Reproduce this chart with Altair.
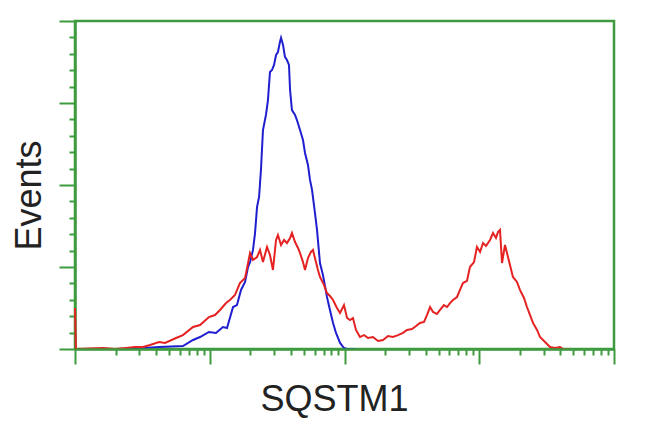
import altair as alt
import pandas as pd
import math

# log10 fluorescence intensity (x) and event counts (y)
blue_x = [0.186, 0.408, 0.623, 0.801, 0.876, 0.928, 0.994, 1.046, 1.098, 1.128,
          1.173, 1.202, 1.232, 1.262, 1.284, 1.299, 1.321, 1.336, 1.351, 1.366,
          1.380, 1.395, 1.417, 1.432, 1.447, 1.462, 1.477, 1.492, 1.506, 1.521,
          1.529, 1.544, 1.558, 1.573, 1.588, 1.596, 1.610, 1.633, 1.647, 1.670,
          1.692, 1.707, 1.729, 1.744, 1.759, 1.781, 1.796, 1.818, 1.840, 1.870,
          1.892, 1.915, 1.937, 1.967, 1.996, 2.019, 2.078]
blue_y = [0, 0, 1.2, 1.8, 5.5, 7.3, 10.4, 9.8, 13.4, 12.8,
          25.6, 26.8, 36.0, 40.9, 50.0, 53.0, 60.4, 70.7, 86.6, 92.7,
          109.2, 133.5, 142.7, 151.8, 168.9, 170.1, 173.2, 179.3, 181.1, 187.2,
          189.7, 185.4, 178.1, 176.2, 173.2, 157.9, 145.7, 142.7, 139.6, 133.5,
          127.4, 119.5, 112.2, 103.1, 97.0, 82.9, 72.6, 52.4, 45.1, 31.7,
          23.8, 15.9, 9.8, 3.7, 0.6, 0, 0]

red_x = [0, 0.007, 0.208, 0.297, 0.378, 0.445, 0.505, 0.557, 0.623, 0.668,
         0.750, 0.801, 0.876, 0.928, 0.994, 1.039, 1.076, 1.121, 1.150, 1.187,
         1.224, 1.262, 1.299, 1.321, 1.351, 1.373, 1.395, 1.425, 1.447, 1.469,
         1.492, 1.506, 1.529, 1.551, 1.573, 1.596, 1.610, 1.633, 1.655, 1.670,
         1.692, 1.707, 1.729, 1.751, 1.766, 1.788, 1.803, 1.818, 1.848, 1.870,
         1.892, 1.915, 1.944, 1.967, 1.996, 2.019, 2.041, 2.063, 2.085, 2.115,
         2.145, 2.174, 2.211, 2.249, 2.286, 2.323, 2.360, 2.397, 2.434, 2.464,
         2.501, 2.531, 2.560, 2.590, 2.612, 2.635, 2.657, 2.686, 2.709, 2.738,
         2.761, 2.783, 2.805, 2.835, 2.857, 2.879, 2.909, 2.931, 2.961, 2.983,
         3.006, 3.028, 3.050, 3.080, 3.102, 3.124, 3.139, 3.154, 3.169, 3.191,
         3.206, 3.228, 3.250, 3.280, 3.302, 3.332, 3.354, 3.377, 3.399, 3.429,
         3.451, 3.488, 3.525, 3.562, 3.599, 3.622, 3.673]
red_y = [25.0, 0, 0.6, 0, 0.6, 1.2, 1.2, 2.4, 4.3, 3.7,
         6.7, 8.5, 13.4, 14.6, 19.5, 20.7, 23.8, 28.0, 29.9, 32.9,
         40.2, 43.3, 58.5, 54.3, 56.1, 60.4, 53.0, 62.2, 57.3, 48.2,
         66.5, 69.5, 63.4, 66.5, 64.6, 67.7, 70.7, 65.2, 61.6, 58.5,
         53.0, 48.2, 55.5, 59.2, 60.4, 53.0, 48.2, 43.9, 39.0, 34.1,
         32.3, 29.9, 25.0, 22.0, 26.8, 18.9, 17.7, 18.9, 11.6, 7.3,
         8.5, 6.7, 7.3, 4.9, 5.5, 7.9, 7.3, 8.5, 9.8, 11.6,
         12.2, 14.0, 15.9, 16.5, 20.7, 25.6, 22.6, 21.3, 23.8, 26.8,
         25.6, 28.0, 29.9, 31.7, 36.0, 40.2, 41.5, 50.0, 53.0, 62.2,
         59.2, 64.6, 62.8, 66.5, 70.7, 67.7, 71.3, 72.6, 52.4, 63.4,
         58.5, 51.2, 43.9, 40.9, 36.0, 31.1, 25.6, 20.7, 15.9, 11.6,
         7.3, 4.3, 1.2, 0.6, 1.2, 0, 0]

series_names = ["Isotype control", "SQSTM1"]
series_colors = ["#1f1fcf", "#e52222"]

x_ticks = [d + math.log10(k) for d in range(4) for k in range(1, 10)] + [4]
y_ticks = list(range(0, 201, 10))

GREEN = "#3f9b3f"

df = pd.concat([
    pd.DataFrame({"x": blue_x, "y": blue_y, "series": series_names[0], "order": range(len(blue_x))}),
    pd.DataFrame({"x": red_x, "y": red_y, "series": series_names[1], "order": range(len(red_x))}),
])

chart = alt.Chart(df).mark_line(strokeWidth=2).encode(
    x=alt.X("x:Q", scale=alt.Scale(domain=[0, 4], nice=False, zero=False),
            axis=alt.Axis(values=x_ticks, labels=False, grid=False,
                          title="SQSTM1", titleFont="Liberation Sans",
                          titleFontSize=36, titleFontWeight="normal",
                          titleColor="#222222", titleX=259, titleY=61,
                          titleAlign="center", titleBaseline="alphabetic",
                          domainColor=GREEN, domainWidth=2.5,
                          tickColor=GREEN, tickWidth=2,
                          tickSize={"condition": {"test": "datum.value % 1 == 0", "value": 15}, "value": 6},
                          zindex=1)),
    y=alt.Y("y:Q", scale=alt.Scale(domain=[0, 200], nice=False),
            axis=alt.Axis(values=y_ticks, labels=False, grid=False,
                          title="Events", titleFont="Liberation Sans",
                          titleFontSize=36, titleFontWeight="normal",
                          titleColor="#222222", titleX=-35, titleY=174,
                          titleAlign="center", titleBaseline="alphabetic", titleAngle=270,
                          domainColor=GREEN, domainWidth=2.5,
                          tickColor=GREEN, tickWidth=2,
                          tickSize={"condition": {"test": "datum.value % 50 == 0", "value": 16}, "value": 6})),
    color=alt.Color("series:N", scale=alt.Scale(domain=series_names, range=series_colors), legend=None),
    order="order:Q",
).properties(
    width=539, height=328,
    autosize=alt.AutoSizeParams(type="none"),
    padding={"left": 67, "top": 13, "right": 20, "bottom": 70},
    background="white",
).configure_view(stroke=GREEN, strokeWidth=2.5)

chart.save("out.html", embed_options={"renderer": "svg", "actions": False})
